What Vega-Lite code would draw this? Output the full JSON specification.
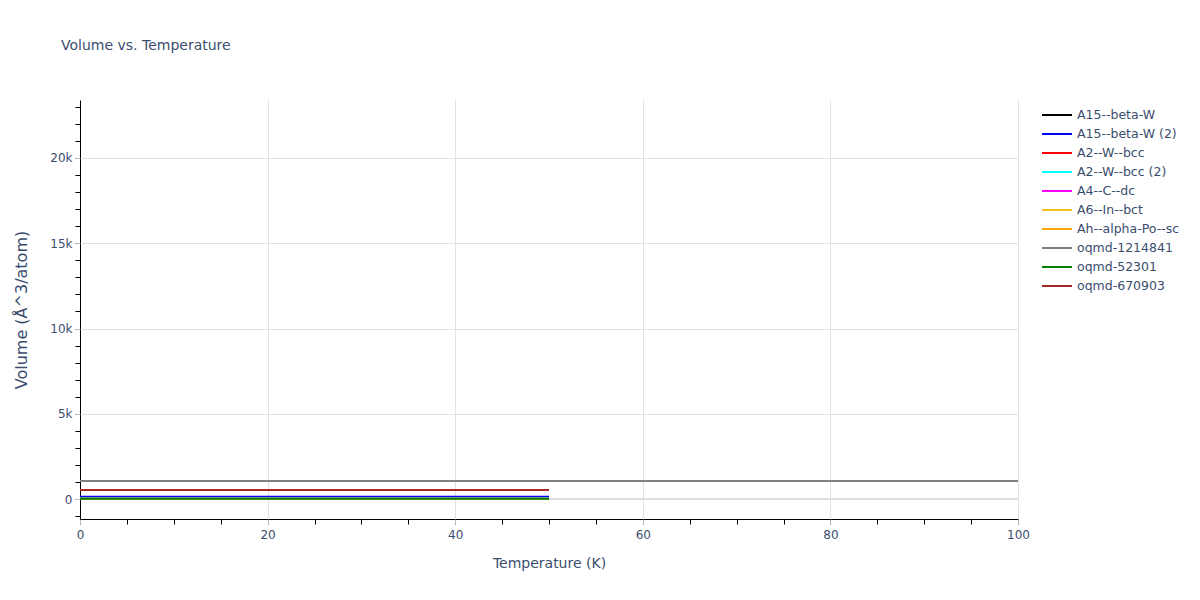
{
  "$schema": "https://vega.github.io/schema/vega-lite/v6.json",
  "width": 938,
  "height": 419,
  "autosize": {"type": "none"},
  "padding": {"left": 80, "top": 100, "right": 182, "bottom": 81},
  "background": "white",
  "title": {"text": "Volume vs. Temperature", "anchor": "start", "frame": "group", "dx": -19, "offset": 47, "fontSize": 14, "font": "DejaVu Sans", "fontWeight": "normal", "color": "#3a4d6e"},
  "config": {"font": "DejaVu Sans", "view": {"stroke": null}},
  "data": {"values": [
    {"series": "A15--beta-W", "T": 0, "V": 16.3}, {"series": "A15--beta-W", "T": 10, "V": 16.3}, {"series": "A15--beta-W", "T": 20, "V": 16.3}, {"series": "A15--beta-W", "T": 30, "V": 16.3}, {"series": "A15--beta-W", "T": 40, "V": 16.4}, {"series": "A15--beta-W", "T": 50, "V": 16.4},
    {"series": "A15--beta-W (2)", "T": 0, "V": 135}, {"series": "A15--beta-W (2)", "T": 10, "V": 135}, {"series": "A15--beta-W (2)", "T": 20, "V": 135}, {"series": "A15--beta-W (2)", "T": 30, "V": 135}, {"series": "A15--beta-W (2)", "T": 40, "V": 135}, {"series": "A15--beta-W (2)", "T": 50, "V": 135},
    {"series": "A2--W--bcc", "T": 0, "V": 16.1}, {"series": "A2--W--bcc", "T": 10, "V": 16.1}, {"series": "A2--W--bcc", "T": 20, "V": 16.1}, {"series": "A2--W--bcc", "T": 30, "V": 16.1}, {"series": "A2--W--bcc", "T": 40, "V": 16.2}, {"series": "A2--W--bcc", "T": 50, "V": 16.2},
    {"series": "A2--W--bcc (2)", "T": 0, "V": 40}, {"series": "A2--W--bcc (2)", "T": 10, "V": 40}, {"series": "A2--W--bcc (2)", "T": 20, "V": 40}, {"series": "A2--W--bcc (2)", "T": 30, "V": 40}, {"series": "A2--W--bcc (2)", "T": 40, "V": 40}, {"series": "A2--W--bcc (2)", "T": 50, "V": 40},
    {"series": "A4--C--dc", "T": 0, "V": 22.0}, {"series": "A4--C--dc", "T": 10, "V": 22.0}, {"series": "A4--C--dc", "T": 20, "V": 22.0}, {"series": "A4--C--dc", "T": 30, "V": 22.0}, {"series": "A4--C--dc", "T": 40, "V": 22.1}, {"series": "A4--C--dc", "T": 50, "V": 22.1},
    {"series": "A6--In--bct", "T": 0, "V": 16.5}, {"series": "A6--In--bct", "T": 10, "V": 16.5}, {"series": "A6--In--bct", "T": 20, "V": 16.5}, {"series": "A6--In--bct", "T": 30, "V": 16.5}, {"series": "A6--In--bct", "T": 40, "V": 16.6}, {"series": "A6--In--bct", "T": 50, "V": 16.6},
    {"series": "Ah--alpha-Po--sc", "T": 0, "V": 17.5}, {"series": "Ah--alpha-Po--sc", "T": 10, "V": 17.5}, {"series": "Ah--alpha-Po--sc", "T": 20, "V": 17.5}, {"series": "Ah--alpha-Po--sc", "T": 30, "V": 17.5}, {"series": "Ah--alpha-Po--sc", "T": 40, "V": 17.6}, {"series": "Ah--alpha-Po--sc", "T": 50, "V": 17.6},
    {"series": "oqmd-1214841", "T": 0, "V": 1056}, {"series": "oqmd-1214841", "T": 20, "V": 1056}, {"series": "oqmd-1214841", "T": 40, "V": 1056}, {"series": "oqmd-1214841", "T": 60, "V": 1056}, {"series": "oqmd-1214841", "T": 80, "V": 1057}, {"series": "oqmd-1214841", "T": 100, "V": 1057},
    {"series": "oqmd-52301", "T": 0, "V": 16.2}, {"series": "oqmd-52301", "T": 10, "V": 16.2}, {"series": "oqmd-52301", "T": 20, "V": 16.2}, {"series": "oqmd-52301", "T": 30, "V": 16.2}, {"series": "oqmd-52301", "T": 40, "V": 16.3}, {"series": "oqmd-52301", "T": 50, "V": 16.3},
    {"series": "oqmd-670903", "T": 0, "V": 528}, {"series": "oqmd-670903", "T": 10, "V": 528}, {"series": "oqmd-670903", "T": 20, "V": 528}, {"series": "oqmd-670903", "T": 30, "V": 528}, {"series": "oqmd-670903", "T": 40, "V": 528}, {"series": "oqmd-670903", "T": 50, "V": 528}
  ]},
  "layer": [
    {
      "mark": {"type": "line", "opacity": 0},
      "encoding": {
        "x": {"field": "T", "type": "quantitative", "scale": {"domain": [0, 100], "nice": false, "zero": false},
              "axis": {"orient": "bottom", "values": [0,5,10,15,20,25,30,35,40,45,50,55,60,65,70,75,80,85,90,95,100], "labels": false, "grid": false, "title": null, "domain": true, "domainColor": "#000000", "domainWidth": 1, "ticks": true, "tickColor": "#000000", "tickSize": 5}},
        "y": {"field": "V", "type": "quantitative", "scale": {"domain": [-1170, 23400], "nice": false, "zero": false},
              "axis": {"orient": "left", "values": [-1000,0,1000,2000,3000,4000,5000,6000,7000,8000,9000,10000,11000,12000,13000,14000,15000,16000,17000,18000,19000,20000,21000,22000,23000], "labels": false, "grid": false, "title": null, "domain": true, "domainColor": "#000000", "domainWidth": 1, "ticks": true, "tickColor": "#000000", "tickSize": 5}}
      }
    },
    {
      "mark": {"type": "rule", "color": "#dedede", "strokeWidth": 2},
      "encoding": {"y": {"datum": 0, "type": "quantitative", "axis": null}}
    },
    {
      "mark": {"type": "line", "strokeWidth": 2},
      "encoding": {
        "x": {"field": "T", "type": "quantitative",
              "axis": {"orient": "bottom", "values": [0,20,40,60,80,100], "labelFlush": false, "labelOverlap": false, "title": "Temperature (K)", "titleFontSize": 14, "titleFontWeight": "normal", "titleColor": "#3a4d6e", "titlePadding": 16, "labelFontSize": 12, "labelColor": "#3a4d6e", "labelPadding": 5, "grid": true, "gridColor": "#e2e2e2", "domain": false, "ticks": true, "tickColor": "#bbbbbb", "tickSize": 5}},
        "y": {"field": "V", "type": "quantitative",
              "axis": {"orient": "left", "values": [0,5000,10000,15000,20000], "labelExpr": "datum.value == 0 ? '0' : format(datum.value / 1000, 'd') + 'k'", "labelFlush": false, "labelOverlap": false, "title": "Volume (Å^3/atom)", "titleFontSize": 16, "titleFontWeight": "normal", "titleColor": "#3a4d6e", "titlePadding": 20, "labelFontSize": 12, "labelColor": "#3a4d6e", "labelPadding": 3, "grid": true, "gridColor": "#e2e2e2", "domain": false, "ticks": true, "tickColor": "#bbbbbb", "tickSize": 5}},
        "color": {"field": "series", "type": "nominal",
                  "scale": {"domain": ["A15--beta-W", "A15--beta-W (2)", "A2--W--bcc", "A2--W--bcc (2)", "A4--C--dc", "A6--In--bct", "Ah--alpha-Po--sc", "oqmd-1214841", "oqmd-52301", "oqmd-670903"],
                            "range": ["#000000", "#0000ff", "#ff0000", "#00ffff", "#ff00ff", "#f0c020", "#ffa500", "#808080", "#008000", "#a52a2a"]},
                  "legend": {"title": null, "orient": "none", "legendX": 967, "legendY": 5, "padding": 0, "symbolType": "M-1.667,0H1.667", "symbolSize": 324, "symbolStrokeWidth": 2, "rowPadding": 2, "labelOffset": 10, "labelFontSize": 12.5, "labelColor": "#3a4d6e", "labelLimit": 200}}
      }
    }
  ],
  "resolve": {"axis": {"x": "independent", "y": "independent"}}
}
